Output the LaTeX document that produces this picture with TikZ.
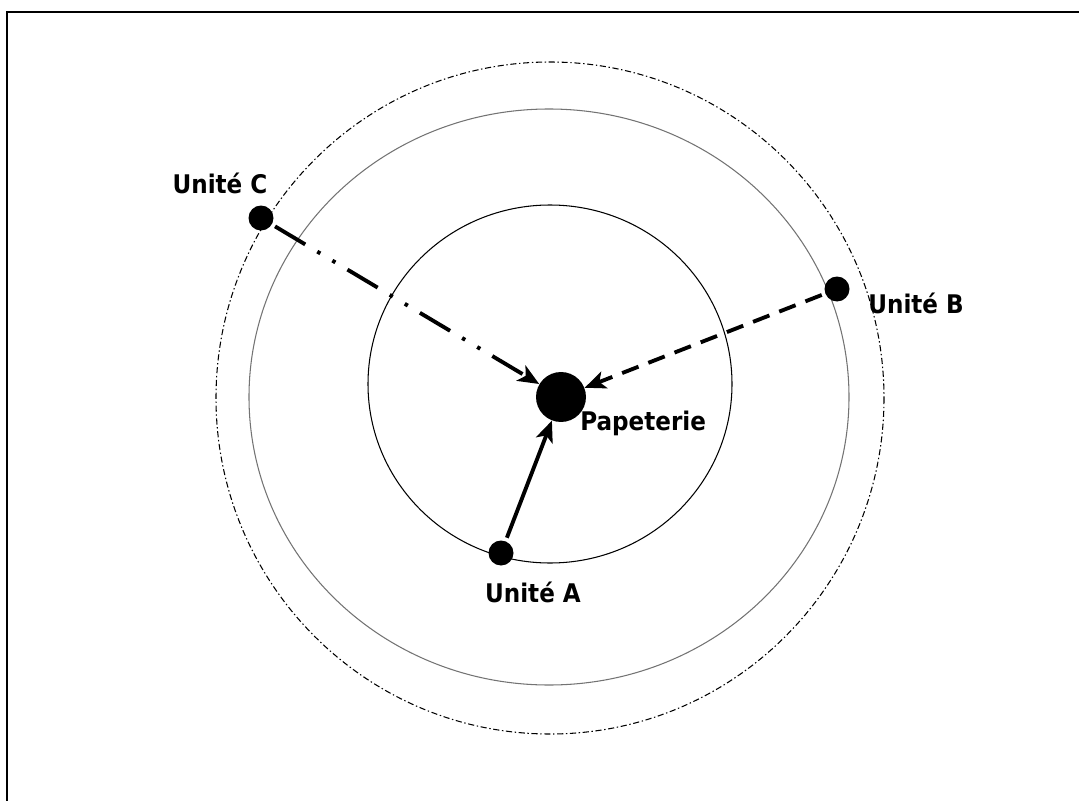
\documentclass[tikz,border=0pt]{standalone}
\usepackage{fontspec}
\setmainfont{DejaVu Sans Condensed}
\usetikzlibrary{arrows.meta, positioning}

\begin{document}
\begin{tikzpicture}[
    x=0.02cm, y=-0.02cm,
    dot/.style={circle, fill=black, inner sep=0pt, minimum size=0.5cm},
    bigdot/.style={circle, fill=black, inner sep=0pt, minimum size=1cm},
    lbl/.style={inner sep=0pt, font=\fontsize{14.6}{17}\selectfont\bfseries},
    arrow/.style={-{Stealth[length=12pt, width=10pt, inset=3pt]}, line width=2.2pt, shorten <=2pt},
    ring/.style={line width=0.6pt}
  ]
    \useasboundingbox (0,0) rectangle (1079,801);
    \draw[line width=1.2pt] (7,801) -- (7,12) -- (1079,12);

    % zones
    \draw[ring, dash pattern=on 3.5pt off 1.5pt on 0.8pt off 1.5pt] (550,398) ellipse [x radius=334, y radius=336];
    \draw[ring, black!55] (549,397) ellipse [x radius=300, y radius=288];
    \draw[ring] (550,384) ellipse [x radius=182, y radius=179];

    \node[bigdot] (pap) at (561,397) {};
    \node[dot] (ua) at (501,553) {};
    \node[dot] (ub) at (837,289) {};
    \node[dot] (uc) at (261,218) {};

    \node[lbl, anchor=base west] at (580,430) {Papeterie};
    \node[lbl, anchor=base] at (533,602) {Unité A};
    \node[lbl, anchor=base west] at (868,313) {Unité B};
    \node[lbl, anchor=base] at (220,193) {Unité C};

    \draw[arrow] (ua) -- (pap);
    \draw[arrow, dash pattern=on 10pt off 6pt] (ub) -- (pap);
    \draw[arrow, dash pattern=on 20pt off 8pt on 2pt off 8pt on 2pt off 8pt] (uc) -- (pap);
\end{tikzpicture}
\end{document}
